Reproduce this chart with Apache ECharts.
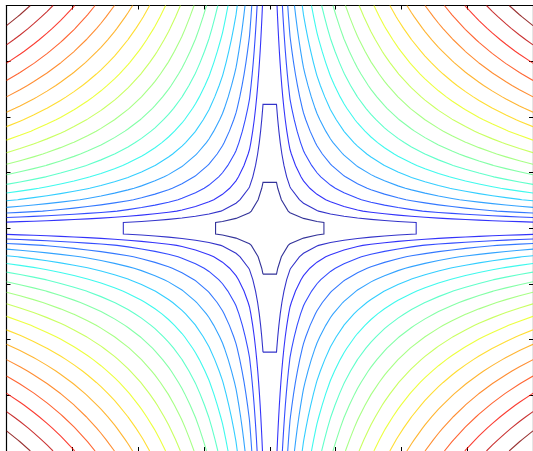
<!DOCTYPE html>
<html>
<head>
<meta charset="utf-8">
<script src="https://cdn.jsdelivr.net/npm/echarts@6/dist/echarts.min.js"></script>
<style>
  html, body { margin: 0; padding: 0; background: #ffffff; }
  #chart { width: 533px; height: 451px; }
</style>
</head>
<body>
<div id="chart"></div>
<script>
// Axis extent and tick step (both axes)
const axisMin = -1;
const axisMax = 1;
const tickStep = 0.25;

// Sampling grid: number of points along each axis
const gridPoints = 40;

// Contour levels of sqrt(|x*y|)
const levels = [
  0.0725, 0.1194, 0.1648, 0.2112, 0.2576, 0.3040, 0.3504, 0.3968, 0.4432, 0.4896,
  0.5360, 0.5824, 0.6288, 0.6752, 0.7216, 0.7680, 0.8144, 0.8608, 0.9072, 0.9536
];

// Jet colour map breakpoints [position, value]
const jetRed   = [[0, 0], [0.35, 0], [0.66, 1], [0.89, 1], [1, 0.5]];
const jetGreen = [[0, 0], [0.125, 0], [0.375, 1], [0.64, 1], [0.91, 0], [1, 0]];
const jetBlue  = [[0, 0.5], [0.11, 1], [0.34, 1], [0.65, 0], [1, 0]];

function field(x, y) {
  return Math.sqrt(Math.abs(x * y));
}

function channel(stops, t) {
  for (let k = 1; k < stops.length; k++) {
    if (t <= stops[k][0]) {
      const [p0, v0] = stops[k - 1];
      const [p1, v1] = stops[k];
      return v0 + (v1 - v0) * (t - p0) / (p1 - p0);
    }
  }
  return stops[stops.length - 1][1];
}

function jet(t) {
  t = Math.max(0, Math.min(1, t));
  const r = Math.round(channel(jetRed, t) * 255);
  const g = Math.round(channel(jetGreen, t) * 255);
  const b = Math.round(channel(jetBlue, t) * 255);
  return 'rgb(' + r + ',' + g + ',' + b + ')';
}

// Sample the field
const xs = [], ys = [];
for (let i = 0; i < gridPoints; i++) {
  xs.push(axisMin + (axisMax - axisMin) * i / (gridPoints - 1));
  ys.push(axisMin + (axisMax - axisMin) * i / (gridPoints - 1));
}
const zGrid = ys.map(y => xs.map(x => field(x, y)));

// Marching squares: returns polylines for one level
function contourLines(level) {
  const nx = xs.length, ny = ys.length;
  const pts = {};
  const segs = [];
  const lerp = (p, q, vp, vq) => p + (level - vp) / (vq - vp) * (q - p);
  for (let j = 0; j < ny - 1; j++) {
    for (let i = 0; i < nx - 1; i++) {
      const a = zGrid[j][i], b = zGrid[j][i + 1];
      const c = zGrid[j + 1][i + 1], d = zGrid[j + 1][i];
      const edges = [];
      let key;
      if ((a < level) !== (b < level)) {
        key = 'h' + i + '_' + j;
        pts[key] = [lerp(xs[i], xs[i + 1], a, b), ys[j]];
        edges.push(key);
      }
      if ((b < level) !== (c < level)) {
        key = 'v' + (i + 1) + '_' + j;
        pts[key] = [xs[i + 1], lerp(ys[j], ys[j + 1], b, c)];
        edges.push(key);
      }
      if ((d < level) !== (c < level)) {
        key = 'h' + i + '_' + (j + 1);
        pts[key] = [lerp(xs[i], xs[i + 1], d, c), ys[j + 1]];
        edges.push(key);
      }
      if ((a < level) !== (d < level)) {
        key = 'v' + i + '_' + j;
        pts[key] = [xs[i], lerp(ys[j], ys[j + 1], a, d)];
        edges.push(key);
      }
      if (edges.length === 2) {
        segs.push([edges[0], edges[1]]);
      } else if (edges.length === 4) {
        const center = (a + b + c + d) / 4;
        if ((a >= level) === (center >= level)) {
          segs.push([edges[0], edges[1]]);
          segs.push([edges[2], edges[3]]);
        } else {
          segs.push([edges[0], edges[3]]);
          segs.push([edges[1], edges[2]]);
        }
      }
    }
  }
  // Join segments sharing an edge into polylines
  const byEdge = {};
  segs.forEach((s, k) => s.forEach(e => { (byEdge[e] = byEdge[e] || []).push(k); }));
  const used = new Array(segs.length).fill(false);
  const lines = [];
  function extend(chain) {
    let last = chain[chain.length - 1];
    while (true) {
      const next = (byEdge[last] || []).find(k => !used[k]);
      if (next === undefined) return false;
      used[next] = true;
      const other = segs[next][0] === last ? segs[next][1] : segs[next][0];
      chain.push(other);
      last = other;
      if (other === chain[0]) return true;
    }
  }
  for (let k = 0; k < segs.length; k++) {
    if (used[k]) continue;
    used[k] = true;
    const chain = [segs[k][0], segs[k][1]];
    const closed = extend(chain);
    if (!closed) {
      chain.reverse();
      extend(chain);
    }
    lines.push(chain.map(e => pts[e]));
  }
  return lines;
}

const lo = levels[0], hi = levels[levels.length - 1];
const series = levels.map(level => ({
  type: 'lines',
  coordinateSystem: 'cartesian2d',
  polyline: true,
  silent: true,
  animation: false,
  lineStyle: { color: jet((level - lo) / (hi - lo)), width: 1.1, opacity: 0.8 },
  data: contourLines(level).map(coords => ({ coords }))
}));

const axisCommon = {
  type: 'value',
  min: axisMin,
  max: axisMax,
  interval: tickStep,
  axisLine: { show: true, onZero: false, lineStyle: { color: '#000000', width: 1.2 } },
  axisTick: { show: true, inside: true, length: 4, lineStyle: { color: '#000000', width: 1 } },
  axisLabel: { show: false },
  splitLine: { show: false }
};

const chart = echarts.init(document.getElementById('chart'), null, { renderer: 'canvas' });
chart.setOption({
  backgroundColor: '#ffffff',
  animation: false,
  grid: { left: 6.5, top: 5.5, width: 527, height: 445.5, containLabel: false },
  xAxis: [
    Object.assign({}, axisCommon, { position: 'bottom' }),
    Object.assign({}, axisCommon, { position: 'top' })
  ],
  yAxis: [
    Object.assign({}, axisCommon, { position: 'left' }),
    Object.assign({}, axisCommon, { position: 'right' })
  ],
  series: series
});
</script>
</body>
</html>
